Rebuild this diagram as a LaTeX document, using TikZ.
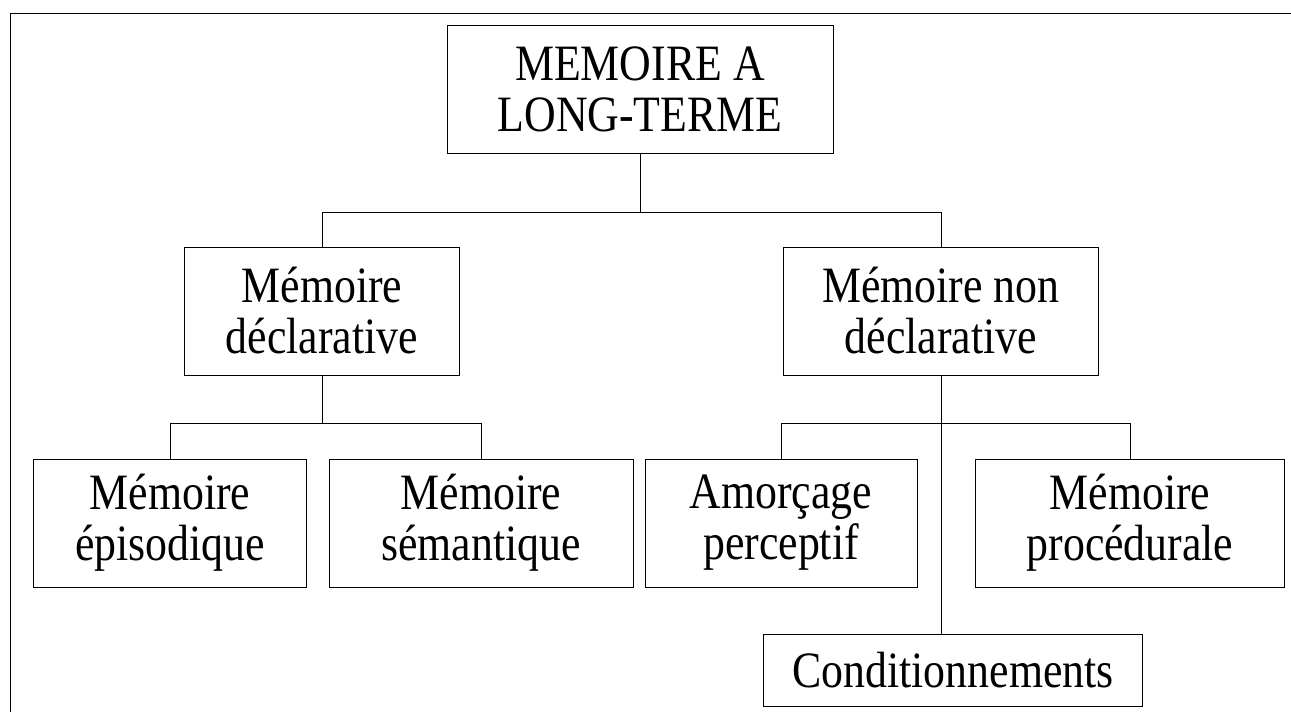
\documentclass[tikz,border=0pt]{standalone}
\usepackage{fontspec}
\setmainfont[FakeStretch=0.86]{Liberation Serif}
\begin{document}
\begin{tikzpicture}[x=0.02cm,y=-0.02cm,
    boite/.style={draw,thin,align=center,inner sep=0pt,minimum height=2.56cm,
      font=\fontsize{29}{29}\selectfont}]
      \useasboundingbox (0,0) rectangle (1291,712);
      \draw (10,712) -- (10,13) -- (1291,13);
      \node[boite,minimum width=7.72cm] (ltm) at (640,89) {MEMOIRE A\\LONG-TERME};
      \node[boite,minimum width=5.5cm] (decl) at (322,311) {Mémoire\\déclarative};
      \node[boite,minimum width=6.3cm] (ndecl) at (941,311) {Mémoire non\\déclarative};
      \node[boite,minimum width=5.46cm] (epis) at (170,523) {Mémoire\\épisodique};
      \node[boite,minimum width=6.08cm] (sem) at (481,523) {Mémoire\\sémantique};
      \node[boite,minimum width=5.44cm] (amor) at (781,523) {Amorçage\\perceptif};
      \node[boite,minimum width=6.18cm] (proc) at (1130,523) {Mémoire\\procédurale};
      \node[boite,minimum width=7.58cm,minimum height=1.44cm] (cond) at (953,670) {Conditionnements};
      \coordinate (b1) at (0,212);
      \coordinate (b2) at (0,423);
      \begin{scope}[-]
        \draw (ltm) -- (ltm |- b1);
        \draw (decl) -- (decl |- b1) -- (ndecl |- b1) -- (ndecl);
        \draw (decl) -- (decl |- b2);
        \draw (epis) -- (epis |- b2) -- (sem |- b2) -- (sem);
        \draw (ndecl.south) -- (ndecl.south |- cond.north);
        \draw (amor) -- (amor |- b2) -- (proc |- b2) -- (proc);
      \end{scope}
\end{tikzpicture}
\end{document}
